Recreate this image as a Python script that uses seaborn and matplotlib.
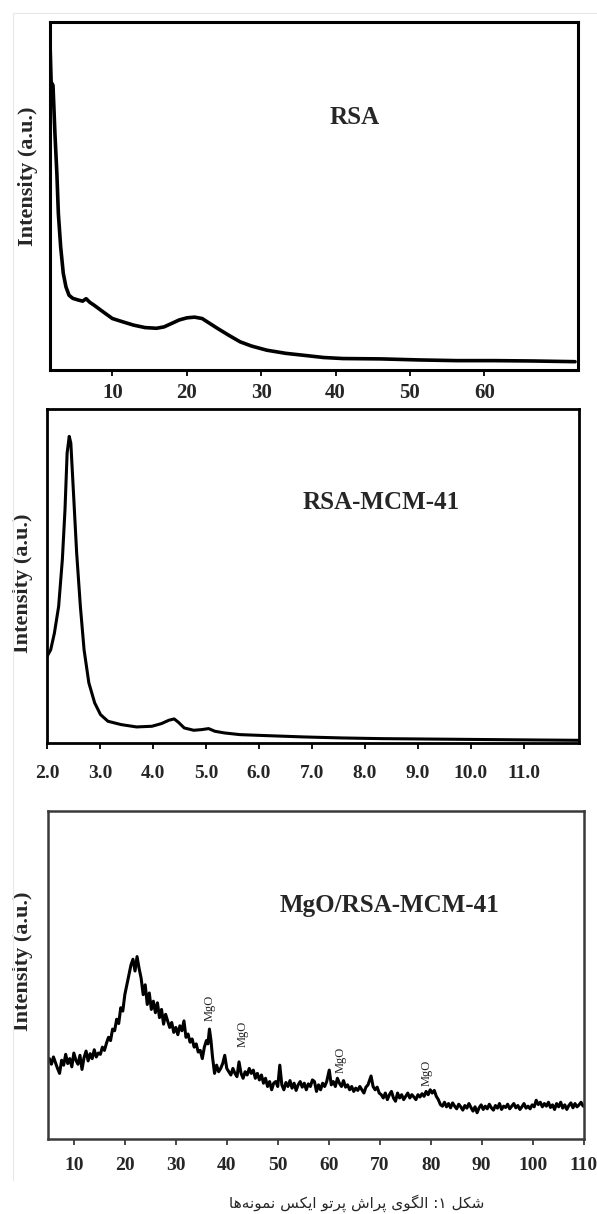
import numpy as np
import pandas as pd
import matplotlib
matplotlib.use("Agg")
import matplotlib.pyplot as plt
from matplotlib.lines import Line2D
import seaborn as sns

# Panel 1: RSA (2theta, normalised intensity)
rsa_x = [1.62, 1.77, 2.02, 2.28, 2.54, 2.74, 3.05, 3.40, 3.76, 4.17, 4.68, 5.45,
         6.0, 6.47, 7.0, 7.5, 8.77, 10.0, 11.33, 12.86, 14.4, 15.93, 16.95, 17.98,
         19.0, 20.02, 21.04, 22.07, 23.09, 24.11, 25.64, 27.18, 28.7, 30.76, 33.3,
         35.87, 38.4, 41.0, 46.1, 51.2, 56.3, 61.4, 66.5, 72.2]
rsa_y = [0.938, 0.828, 0.818, 0.679, 0.565, 0.450, 0.354, 0.278, 0.239, 0.215,
         0.206, 0.201, 0.198, 0.205, 0.194, 0.187, 0.167, 0.148, 0.139, 0.129,
         0.122, 0.120, 0.124, 0.134, 0.144, 0.150, 0.152, 0.148, 0.134, 0.120,
         0.100, 0.081, 0.069, 0.057, 0.048, 0.042, 0.036, 0.033, 0.032, 0.029,
         0.027, 0.027, 0.026, 0.024]

# Panel 2: RSA-MCM-41 (low angle)
mcm_x = [2.0, 2.07, 2.14, 2.22, 2.29, 2.34, 2.38, 2.42, 2.45, 2.50, 2.56, 2.63,
         2.70, 2.79, 2.90, 3.01, 3.15, 3.40, 3.69, 3.98, 4.16, 4.30, 4.40, 4.48,
         4.59, 4.77, 4.92, 5.05, 5.17, 5.35, 5.64, 6.14, 6.86, 7.58, 8.30, 9.74,
         11.18, 12.04]
mcm_y = [0.259, 0.279, 0.329, 0.409, 0.549, 0.699, 0.868, 0.918, 0.898, 0.749,
         0.569, 0.409, 0.279, 0.180, 0.120, 0.085, 0.065, 0.055, 0.048, 0.050,
         0.058, 0.068, 0.072, 0.062, 0.045, 0.038, 0.040, 0.043, 0.035, 0.030,
         0.025, 0.022, 0.018, 0.015, 0.013, 0.011, 0.009, 0.008]

# Panel 3: MgO/RSA-MCM-41 (wide angle, noisy)
mgo_x = [5.2, 5.6, 6.0, 6.4, 6.8, 7.2, 7.6, 8.0, 8.4, 8.8, 9.2, 9.6, 10.0, 10.4,
         10.8, 11.2, 11.6, 12.0, 12.4, 12.8, 13.2, 13.6, 14.0, 14.4, 14.8, 15.2,
         15.6, 16.0,
         16.4, 16.8, 17.2, 17.6, 18.0, 18.4, 18.8, 19.2, 19.6, 20.0, 20.4, 20.8,
         21.2, 21.6, 22.0, 22.4, 22.8,
         23.2, 23.6, 24.0, 24.4, 24.8, 25.2, 25.6, 26.0, 26.4, 26.8, 27.2, 27.6,
         28.0, 28.4, 28.8, 29.2, 29.6, 30.0, 30.4, 30.8, 31.2, 31.6, 32.0, 32.4,
         32.8, 33.2, 33.6, 34.0, 34.4, 34.8, 35.2, 35.6,
         36.0, 36.3, 36.6, 36.9, 37.2, 37.6, 38.0, 38.4, 38.8, 39.2, 39.6, 40.0,
         40.4, 40.8, 41.2, 41.6, 42.0, 42.4, 42.8, 43.2, 43.6, 44.0, 44.4, 44.8,
         45.2, 45.6, 46.0,
         46.4, 46.8, 47.2, 47.6, 48.0, 48.4, 48.8, 49.2, 49.6, 50.0, 50.4, 50.8,
         51.2, 51.6, 52.0, 52.4, 52.8, 53.2, 53.6, 54.0, 54.4, 54.8, 55.2, 55.6,
         56.0, 56.4, 56.8, 57.2, 57.6, 58.0, 58.4, 58.8, 59.2, 59.6,
         60.1, 60.5, 60.9, 61.3, 61.7, 62.1, 62.5, 62.9, 63.3, 63.7, 64.1, 64.5,
         64.9, 65.3, 65.7, 66.1, 66.5, 66.9, 67.3, 67.7, 68.3, 68.7, 69.1, 69.5,
         69.9, 70.3, 70.7, 71.1, 71.5, 71.9, 72.3, 72.7, 73.1, 73.5, 73.9, 74.3,
         74.7, 75.1, 75.5, 75.9, 76.3, 76.7, 77.1, 77.5, 77.9, 78.3, 78.7, 79.1,
         79.5, 79.9, 80.3, 80.7, 81.1, 81.5, 81.9,
         82.3, 82.7, 83.1, 83.5, 83.9, 84.3, 84.7, 85.1, 85.5, 85.9, 86.3, 86.7,
         87.1, 87.5, 87.9, 88.3, 88.7, 89.1, 89.5, 89.9, 90.3, 90.7, 91.1, 91.5,
         91.9, 92.3, 92.7, 93.1, 93.5, 93.9, 94.3, 94.7, 95.1, 95.5, 95.9, 96.3,
         96.7, 97.1, 97.5, 97.9, 98.3, 98.7, 99.1, 99.5, 99.9, 100.3, 100.7, 101.1,
         101.5, 101.9, 102.3, 102.7, 103.1, 103.5, 103.9, 104.3, 104.7, 105.1,
         105.5, 105.9, 106.3, 106.7, 107.1, 107.5, 107.9, 108.3, 108.7, 109.1,
         109.5, 109.9]
mgo_y = [0.245, 0.228, 0.250, 0.232, 0.215, 0.200, 0.240, 0.225, 0.258, 0.230,
         0.245, 0.220, 0.262, 0.240, 0.228, 0.255, 0.212, 0.248, 0.268, 0.238,
         0.260, 0.245, 0.272, 0.250, 0.262, 0.258, 0.280, 0.270,
         0.292, 0.310, 0.300, 0.335, 0.330, 0.365, 0.352, 0.400, 0.390, 0.440,
         0.470, 0.500, 0.530, 0.548, 0.512, 0.556, 0.520,
         0.490, 0.440, 0.470, 0.410, 0.445, 0.395, 0.420, 0.385, 0.415, 0.370,
         0.395, 0.350, 0.380, 0.360, 0.340, 0.355, 0.325, 0.340, 0.318, 0.345,
         0.330, 0.360, 0.310, 0.320, 0.295, 0.305, 0.280, 0.290, 0.265, 0.270,
         0.245, 0.280,
         0.300, 0.290, 0.335, 0.300, 0.250, 0.200, 0.225, 0.205, 0.215, 0.230,
         0.255, 0.215, 0.205, 0.195, 0.215, 0.200, 0.190, 0.235, 0.200, 0.185,
         0.205, 0.195, 0.215, 0.200, 0.210, 0.185, 0.200,
         0.180, 0.195, 0.170, 0.185, 0.160, 0.175, 0.150, 0.170, 0.175, 0.160,
         0.225, 0.165, 0.150, 0.172, 0.160, 0.178, 0.155, 0.170, 0.148, 0.165,
         0.175, 0.158, 0.170, 0.150, 0.168, 0.160, 0.180, 0.175, 0.145, 0.165,
         0.150, 0.170, 0.160, 0.175,
         0.210, 0.165, 0.175, 0.160, 0.185, 0.170, 0.160, 0.178, 0.158, 0.165,
         0.150, 0.160, 0.145, 0.155, 0.148, 0.160, 0.150, 0.140, 0.158, 0.165,
         0.192, 0.160, 0.150, 0.158, 0.140, 0.135, 0.125, 0.140, 0.120, 0.135,
         0.145, 0.125, 0.115, 0.140, 0.125, 0.135, 0.120, 0.130, 0.140, 0.125,
         0.135, 0.128, 0.120, 0.135, 0.128, 0.138, 0.130, 0.145, 0.135, 0.150,
         0.140, 0.148, 0.130, 0.120, 0.105,
         0.100, 0.112, 0.098, 0.108, 0.095, 0.110, 0.100, 0.092, 0.106, 0.098,
         0.088, 0.102, 0.094, 0.108, 0.096, 0.085, 0.098, 0.080, 0.095, 0.104,
         0.090, 0.100, 0.092, 0.106, 0.095, 0.088, 0.102, 0.094, 0.108, 0.090,
         0.100, 0.096, 0.106, 0.092, 0.100, 0.108, 0.095, 0.102, 0.090, 0.098,
         0.108, 0.094, 0.100, 0.092, 0.104, 0.098, 0.118, 0.105, 0.112, 0.098,
         0.108, 0.100, 0.112, 0.096, 0.104, 0.090, 0.108, 0.098, 0.112, 0.094,
         0.104, 0.090, 0.102, 0.110, 0.095, 0.108, 0.098, 0.104, 0.112, 0.100]

mgo_peaks_x = [36.6, 43.2, 62.3, 79.3]
mgo_peaks_y = [0.40, 0.32, 0.24, 0.20]

titles = ["RSA", "RSA-MCM-41", "MgO/RSA-MCM-41"]
ticks1 = [10, 20, 30, 40, 50, 60]
ticks2 = [2.0, 3.0, 4.0, 5.0, 6.0, 7.0, 8.0, 9.0, 10.0, 11.0]
ticks3 = [10, 20, 30, 40, 50, 60, 70, 80, 90, 100, 110]

caption = "شکل ۱: الگوی پراش پرتو ایکس نمونه\u200cها"

sns.set_style("ticks")
plt.rcParams['font.family'] = ['Liberation Serif', 'DejaVu Serif']
plt.rcParams['font.weight'] = 'bold'

# simple Persian shaping (matplotlib has no bidi / joining)
FORMS = {
    '\u0634': (0xFEB5, 0xFEB6, 0xFEB7, 0xFEB8),
    '\u06A9': (0xFB8E, 0xFB8F, 0xFB90, 0xFB91),
    '\u0644': (0xFEDD, 0xFEDE, 0xFEDF, 0xFEE0),
    '\u0627': (0xFE8D, 0xFE8E, None, None),
    '\u06AF': (0xFB92, 0xFB93, 0xFB94, 0xFB95),
    '\u0648': (0xFEED, 0xFEEE, None, None),
    '\u06CC': (0xFBFC, 0xFBFD, 0xFBFE, 0xFBFF),
    '\u067E': (0xFB56, 0xFB57, 0xFB58, 0xFB59),
    '\u0631': (0xFEAD, 0xFEAE, None, None),
    '\u062A': (0xFE95, 0xFE96, 0xFE97, 0xFE98),
    '\u0633': (0xFEB1, 0xFEB2, 0xFEB3, 0xFEB4),
    '\u0646': (0xFEE5, 0xFEE6, 0xFEE7, 0xFEE8),
    '\u0645': (0xFEE1, 0xFEE2, 0xFEE3, 0xFEE4),
    '\u0647': (0xFEE9, 0xFEEA, 0xFEEB, 0xFEEC),
}


def shape_fa(s):
    out = []
    for i, c in enumerate(s):
        if c == '\u200c':
            continue
        if c not in FORMS:
            out.append(c)
            continue
        f = FORMS[c]
        prev = s[i - 1] if i > 0 else ''
        nxt = s[i + 1] if i + 1 < len(s) else ''
        jp = prev in FORMS and FORMS[prev][2] is not None
        jn = nxt in FORMS and f[2] is not None
        if jp and jn:
            g = f[3]
        elif jp:
            g = f[1]
        elif jn:
            g = f[2]
        else:
            g = f[0]
        out.append(chr(g))
    return ''.join(reversed(out))


fig = plt.figure(figsize=(5.97, 12.14), dpi=100)

panels = [
    dict(rect=[0.0838, 0.6952, 0.8844, 0.2866], x=rsa_x, y=rsa_y, xlim=(1.62, 72.6),
         ticks=ticks1, fmt="{:d}", lw=2.6, spine_lw=2.2, spine_c='black', pad=5,
         title_xy=(0.576, 0.727), ylab=(-0.022, 0.557), tsize=15),
    dict(rect=[0.0787, 0.3880, 0.8911, 0.2751], x=mcm_x, y=mcm_y, xlim=(2.0, 12.04),
         ticks=ticks2, fmt="{:.1f}", lw=2.2, spine_lw=2.0, spine_c='black', pad=12,
         title_xy=(0.628, 0.719), ylab=(-0.027, 0.479), tsize=14),
    dict(rect=[0.0804, 0.0618, 0.8978, 0.2702], x=mgo_x, y=mgo_y, xlim=(4.93, 110.07),
         ticks=ticks3, fmt="{:d}", lw=2.2, spine_lw=1.8, spine_c='#3a3a3a', pad=9,
         title_xy=(0.638, 0.713), ylab=(-0.0285, 0.543), tsize=14),
]

for i, p in enumerate(panels):
    ax = fig.add_axes(p['rect'])
    df = pd.DataFrame({'two_theta': p['x'], 'intensity': p['y']})
    sns.lineplot(data=df, x='two_theta', y='intensity', ax=ax, color='black',
                 linewidth=p['lw'], estimator=None)
    ax.set_xlim(*p['xlim'])
    ax.set_ylim(0, 1)
    ax.set_yticks([])
    ax.set_xticks(p['ticks'])
    ax.set_xticklabels([p['fmt'].format(t) for t in p['ticks']],
                       fontsize=p['tsize'], fontweight='bold')
    ax.tick_params(axis='x', direction='out', length=4, width=1.3, pad=p['pad'],
                   color=p['spine_c'])
    for s in ax.spines.values():
        s.set_visible(True)
        s.set_linewidth(p['spine_lw'])
        s.set_color(p['spine_c'])
    ax.set_xlabel('')
    ax.set_ylabel('Intensity (a.u.)', fontsize=16, fontweight='bold')
    ax.yaxis.set_label_coords(*p['ylab'])
    ax.text(p['title_xy'][0], p['title_xy'][1], titles[i], transform=ax.transAxes,
            fontsize=18, fontweight='bold', ha='center', va='center')
    if i == 2:
        for px, py in zip(mgo_peaks_x, mgo_peaks_y):
            ax.text(px, py, 'MgO', rotation=90, fontsize=9, fontweight='normal',
                    ha='center', va='center')

# faint screenshot border
fig.add_artist(Line2D([13 / 597, 13 / 597], [1 - 13 / 1214, 1 - 1180 / 1214],
                      transform=fig.transFigure, color='#e8e8e8', lw=0.8))
fig.add_artist(Line2D([13 / 597, 1.0], [1 - 13 / 1214, 1 - 13 / 1214],
                      transform=fig.transFigure, color='#e8e8e8', lw=0.8))

fig.text(0.598, 1 - 1212 / 1214, shape_fa(caption), family=['DejaVu Sans'],
         fontsize=11, fontweight='normal', ha='center', va='bottom')

fig.savefig('out.png', dpi=100)
